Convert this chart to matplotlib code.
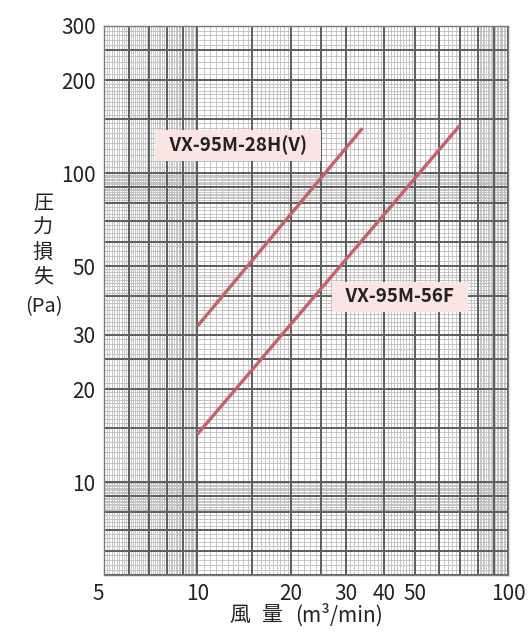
import numpy as np
import matplotlib
matplotlib.use("Agg")
import matplotlib.pyplot as plt

plt.rcParams['font.family'] = ['Noto Sans CJK JP', 'DejaVu Sans']

# data
x_ticks = [5, 10, 20, 30, 40, 50, 100]
y_ticks = [10, 20, 30, 50, 100, 200, 300]

model_a = "VX-95M-28H(V)"
flow_a = [10, 34]
loss_a = [32, 140]

model_b = "VX-95M-56F"
flow_b = [10, 70]
loss_b = [14.3, 143]

# log-paper grid
major_lines = [5, 6, 7, 8, 9, 10, 15, 20, 25, 30, 40, 50, 60, 70, 80, 90, 100, 150, 200, 250, 300]
minor_x = np.concatenate([np.arange(5, 10, 0.1), np.arange(10, 20, 0.5),
                          np.arange(20, 50, 1), np.arange(50, 80, 2),
                          np.arange(80, 100, 1)])
minor_y = np.concatenate([np.arange(5, 8, 0.2), np.arange(8, 10, 0.1),
                          np.arange(10, 20, 0.5), np.arange(20, 50, 1),
                          np.arange(50, 80, 2), np.arange(80, 100, 1),
                          np.arange(100, 200, 5), np.arange(200, 300, 10)])

fig = plt.figure(figsize=(5.3, 6.34), dpi=100)
ax = fig.add_axes([0.1962, 0.0931, 0.7623, 0.8659])
ax.set_xscale('log')
ax.set_yscale('log')
ax.set_xlim(5, 100)
ax.set_ylim(5, 300)

for v in minor_x:
    ax.axvline(v, color='#bdbdbd', lw=0.6, zorder=1)
for v in minor_y:
    ax.axhline(v, color='#bdbdbd', lw=0.6, zorder=1)
for v in major_lines:
    if v <= 100:
        ax.axvline(v, color='#5e5e5e', lw=1.4, zorder=2)
    ax.axhline(v, color='#5e5e5e', lw=1.4, zorder=2)

line_color = '#c8606c'
ax.plot(flow_a, loss_a, color=line_color, lw=2.4, solid_capstyle='butt', zorder=5)
ax.plot(flow_b, loss_b, color=line_color, lw=2.4, solid_capstyle='butt', zorder=5)

box = dict(boxstyle='square,pad=0.3', fc='#fbe4e4', ec='none')
ax.text(13.5, 123, "  " + model_a + "  ", fontsize=13.5, fontweight='bold', ha='center',
        va='center', color='#222222', bbox=box, zorder=6)
ax.text(44.9, 39.8, "  " + model_b + "  ", fontsize=13.5, fontweight='bold', ha='center',
        va='center', color='#222222', bbox=box, zorder=6)

ax.set_xticks(x_ticks)
ax.set_xticklabels([str(v) for v in x_ticks])
ax.set_yticks(y_ticks)
ax.set_yticklabels([str(v) for v in y_ticks])
ax.minorticks_off()
ax.tick_params(length=0, labelsize=15, colors='#222222', pad=6)
ax.get_xticklabels()[0].set_ha('right')

for s in ax.spines.values():
    s.set_color('#7a7a7a')
    s.set_linewidth(1.0)

fig.text(0.453, 0.03, "風", fontsize=15, ha='center', va='center', color='#222222')
fig.text(0.513, 0.03, "量", fontsize=15, ha='center', va='center', color='#222222')
fig.text(0.64, 0.03, "(m³/min)", fontsize=15, ha='center', va='center', color='#222222')
fig.text(0.081, 0.621, "圧\n力\n損\n失", fontsize=14.5, ha='center', va='center',
         linespacing=1.22, color='#222222')
fig.text(0.083, 0.516, "(Pa)", fontsize=14.5, ha='center', va='center', color='#222222')

fig.savefig("out.png", dpi=100)
